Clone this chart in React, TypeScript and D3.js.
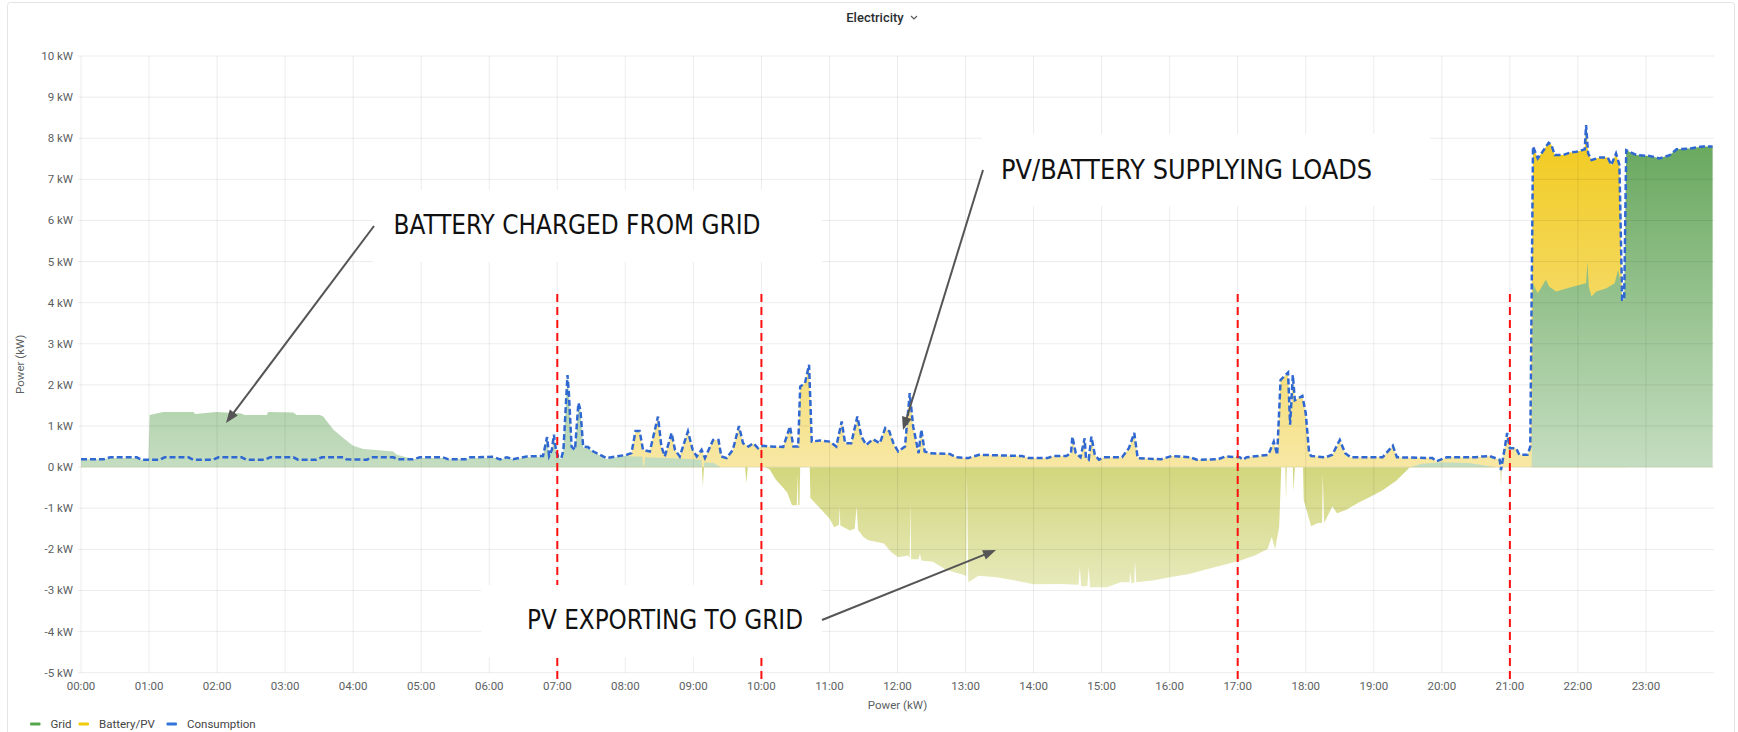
import React from "react";
import * as d3 from "d3";

// consumption (kW) and the upper edge of the Battery/PV band share these times (hours)
const loadHours = [
  0.0, 0.33, 0.43, 0.82, 0.89, 1.16, 1.23, 1.58, 1.65, 1.94,
  2.02, 2.36, 2.43, 2.7, 2.78, 3.12, 3.19, 3.46, 3.54, 3.86,
  3.9, 4.2, 4.27, 4.59, 4.66, 4.88, 4.98, 5.32, 5.4, 5.67,
  5.72, 6.06, 6.16, 6.26, 6.35, 6.55, 6.79, 6.85, 6.88, 6.92,
  6.95, 6.98, 7.01, 7.06, 7.09, 7.15, 7.17, 7.21, 7.26, 7.31,
  7.34, 7.38, 7.45, 7.53, 7.63, 7.72, 7.87, 8.02, 8.09, 8.15,
  8.21, 8.26, 8.36, 8.48, 8.53, 8.58, 8.68, 8.73, 8.8, 8.92,
  8.99, 9.05, 9.12, 9.17, 9.29, 9.37, 9.41, 9.49, 9.58, 9.67,
  9.73, 9.81, 9.88, 9.95, 10.02, 10.12, 10.32, 10.42, 10.47, 10.54,
  10.57, 10.64, 10.7, 10.74, 10.86, 11.01, 11.1, 11.18, 11.23, 11.32,
  11.41, 11.47, 11.54, 11.64, 11.74, 11.82, 11.88, 11.94, 12.01, 12.11,
  12.18, 12.23, 12.31, 12.35, 12.4, 12.48, 12.77, 12.86, 13.04, 13.2,
  13.83, 13.93, 14.2, 14.3, 14.48, 14.55, 14.57, 14.62, 14.69, 14.75,
  14.77, 14.81, 14.85, 14.9, 14.96, 15.03, 15.3, 15.4, 15.48, 15.53,
  15.87, 16.03, 16.3, 16.4, 16.71, 16.82, 17.03, 17.08, 17.13, 17.45,
  17.53, 17.58, 17.63, 17.74, 17.77, 17.81, 17.84, 17.95, 18.0, 18.05,
  18.08, 18.29, 18.39, 18.5, 18.58, 18.66, 19.13, 19.28, 19.34, 19.86,
  19.92, 20.07, 20.49, 20.6, 20.7, 20.85, 20.87, 20.92, 20.96, 21.0,
  21.09, 21.14, 21.26, 21.3, 21.34, 21.41, 21.48, 21.57, 21.61, 21.66,
  21.78, 21.88, 21.98, 22.1, 22.12, 22.15, 22.2, 22.32, 22.44, 22.49,
  22.56, 22.61, 22.65, 22.68, 22.71, 22.86, 23.05, 23.2, 23.35, 23.45,
  23.64, 23.84, 23.98,
];

const consumption = [
  0.19, 0.19, 0.24, 0.24, 0.18, 0.18, 0.24, 0.24, 0.18, 0.18,
  0.24, 0.24, 0.18, 0.18, 0.24, 0.24, 0.18, 0.18, 0.24, 0.24,
  0.19, 0.18, 0.24, 0.24, 0.19, 0.19, 0.24, 0.24, 0.19, 0.19,
  0.24, 0.25, 0.19, 0.24, 0.19, 0.26, 0.27, 0.73, 0.27, 0.42,
  0.79, 0.42, 0.26, 0.22, 0.42, 2.24, 1.8, 0.5, 0.42, 1.56,
  1.39, 0.5, 0.49, 0.38, 0.3, 0.22, 0.26, 0.3, 0.34, 0.88,
  0.88, 0.42, 0.38, 1.23, 0.5, 0.26, 0.83, 0.42, 0.26, 0.87,
  0.42, 0.26, 0.42, 0.22, 0.66, 0.66, 0.26, 0.22, 0.42, 1.0,
  0.58, 0.5, 0.58, 0.46, 0.52, 0.5, 0.49, 0.99, 0.5, 0.5,
  1.96, 2.04, 2.49, 0.62, 0.65, 0.62, 0.5, 1.11, 0.58, 0.58,
  1.23, 0.74, 0.54, 0.68, 0.58, 0.95, 0.87, 0.58, 0.38, 0.5,
  1.8, 0.99, 0.34, 0.91, 0.38, 0.34, 0.32, 0.24, 0.22, 0.3,
  0.27, 0.22, 0.22, 0.27, 0.27, 0.34, 0.74, 0.34, 0.24, 0.7,
  0.22, 0.18, 0.74, 0.3, 0.18, 0.24, 0.24, 0.46, 0.83, 0.22,
  0.19, 0.27, 0.24, 0.18, 0.19, 0.26, 0.24, 0.18, 0.24, 0.3,
  0.62, 0.3, 2.12, 2.3, 1.03, 2.24, 1.63, 1.73, 1.31, 0.34,
  0.27, 0.24, 0.3, 0.66, 0.34, 0.24, 0.24, 0.52, 0.24, 0.22,
  0.14, 0.24, 0.24, 0.26, 0.27, 0.18, -0.07, 0.42, 0.83, 0.46,
  0.46, 0.3, 0.3, 0.5, 7.8, 7.51, 7.67, 7.89, 7.84, 7.59,
  7.59, 7.65, 7.67, 7.73, 8.32, 7.63, 7.47, 7.53, 7.53, 7.35,
  7.63, 7.35, 4.07, 4.07, 7.71, 7.59, 7.57, 7.51, 7.59, 7.73,
  7.75, 7.8, 7.8,
];

// top edge of the yellow Battery/PV band (kW), 0 where the band is not shown
const batteryPv = [
  0, 0, 0, 0, 0, 0, 0, 0, 0, 0,
  0, 0, 0, 0, 0, 0, 0, 0, 0, 0,
  0, 0, 0, 0, 0, 0, 0, 0, 0, 0,
  0, 0, 0, 0, 0, 0, 0, 0, 0, 0,
  0, 0, 0, 0, 0, 0, 0, 0, 0, 0,
  0, 0, 0, 0, 0, 0, 0, 0.3, 0.34, 0.88,
  0.88, 0.42, 0.38, 1.23, 0.5, 0.26, 0.83, 0.42, 0.26, 0.87,
  0.42, 0.26, 0.42, 0.22, 0.66, 0.66, 0.26, 0.22, 0.42, 1.0,
  0.58, 0.5, 0.58, 0.46, 0.52, 0.5, 0.49, 0.99, 0.5, 0.5,
  1.96, 2.04, 2.49, 0.62, 0.65, 0.62, 0.5, 1.11, 0.58, 0.58,
  1.23, 0.74, 0.54, 0.68, 0.58, 0.95, 0.87, 0.58, 0.38, 0.5,
  1.8, 0.99, 0.34, 0.91, 0.38, 0.34, 0.32, 0.24, 0.22, 0.3,
  0.27, 0.22, 0.22, 0.27, 0.27, 0.34, 0.74, 0.34, 0.24, 0.7,
  0.22, 0.18, 0.74, 0.3, 0.18, 0.24, 0.24, 0.46, 0.83, 0.22,
  0.19, 0.27, 0.24, 0.18, 0.19, 0.26, 0.24, 0.18, 0.24, 0.3,
  0.62, 0.3, 2.12, 2.3, 1.03, 2.24, 1.63, 1.73, 1.31, 0.34,
  0.27, 0.24, 0.3, 0.66, 0.34, 0.24, 0.24, 0.52, 0.24, 0.22,
  0.14, 0.24, 0.24, 0.26, 0.27, 0.18, 0, 0.42, 0.83, 0.46,
  0.46, 0.3, 0.3, 0.5, 7.8, 7.51, 7.67, 7.89, 7.84, 7.59,
  7.59, 7.65, 7.67, 7.73, 8.32, 7.63, 7.47, 7.53, 7.53, 7.35,
  7.63, 7.35, 4.07, 4.07, 0, 0, 0, 0, 0, 0,
  0, 0, 0,
];

// grid power (kW), negative = export
const gridHours = [
  0.0, 0.33, 0.43, 0.82, 0.89, 0.99, 1.01, 1.21, 1.65, 1.68,
  1.99, 2.34, 2.41, 2.73, 2.75, 3.12, 3.17, 3.51, 3.56, 3.71,
  3.86, 4.0, 4.15, 4.29, 4.59, 4.64, 4.74, 4.88, 4.98, 5.32,
  5.4, 5.67, 5.72, 6.06, 6.16, 6.26, 6.35, 6.55, 6.79, 6.85,
  6.88, 6.92, 6.95, 6.98, 7.01, 7.06, 7.09, 7.15, 7.17, 7.21,
  7.26, 7.31, 7.34, 7.38, 7.45, 7.53, 7.63, 7.72, 7.87, 8.02,
  8.09, 8.25, 8.27, 8.29, 8.6, 8.95, 9.12, 9.14, 9.16, 9.3,
  9.4, 9.76, 9.78, 9.8, 10.05, 10.12, 10.21, 10.32, 10.38, 10.42,
  10.45, 10.52, 10.53, 10.54, 10.56, 10.57, 10.71, 10.72, 10.86, 11.0,
  11.07, 11.14, 11.15, 11.16, 11.3, 11.37, 11.4, 11.42, 11.5, 11.57,
  11.7, 11.8, 11.91, 12.01, 12.15, 12.18, 12.19, 12.2, 12.31, 12.33,
  12.35, 12.52, 12.72, 12.93, 13.01, 13.02, 13.04, 13.19, 13.45, 13.73,
  14.0, 14.4, 14.66, 14.68, 14.7, 14.79, 14.81, 14.83, 15.08, 15.28,
  15.41, 15.42, 15.44, 15.48, 15.49, 15.51, 15.75, 16.02, 16.29, 16.56,
  16.83, 17.04, 17.25, 17.44, 17.5, 17.55, 17.61, 17.64, 17.7, 17.71,
  17.72, 17.81, 17.82, 17.84, 17.96, 17.97, 18.08, 18.18, 18.24, 18.25,
  18.27, 18.39, 18.46, 18.59, 18.78, 18.95, 19.13, 19.33, 19.53, 19.7,
  20.0, 20.4, 20.8, 20.86, 20.87, 20.88, 21.32, 21.34, 21.36, 21.41,
  21.53, 21.58, 21.68, 21.92, 22.12, 22.14, 22.16, 22.2, 22.27, 22.42,
  22.54, 22.59, 22.62, 22.65, 22.68, 22.71, 22.86, 23.05, 23.2, 23.35,
  23.45, 23.64, 23.84, 23.98,
];

const grid = [
  0.19, 0.19, 0.22, 0.22, 0.18, 0.18, 1.27, 1.34, 1.34, 1.29,
  1.34, 1.31, 1.27, 1.27, 1.34, 1.33, 1.27, 1.27, 1.23, 0.91,
  0.7, 0.52, 0.44, 0.42, 0.38, 0.3, 0.26, 0.19, 0.22, 0.22,
  0.19, 0.19, 0.22, 0.23, 0.19, 0.22, 0.19, 0.24, 0.25, 0.71,
  0.25, 0.4, 0.77, 0.4, 0.24, 0.2, 0.4, 2.22, 1.78, 0.48,
  0.4, 1.54, 1.37, 0.48, 0.47, 0.36, 0.28, 0.2, 0.24, 0.28,
  0.26, 0.26, -0.06, 0.24, 0.22, 0.2, 0.18, -0.47, 0.12, 0.1,
  0.0, 0.0, -0.39, 0.0, 0.0, -0.05, -0.3, -0.5, -0.62, -0.8,
  -0.93, -0.93, -0.16, -0.93, -0.93, 0.0, 0.0, -0.75, -1.0, -1.25,
  -1.46, -1.4, -0.97, -1.42, -1.54, -1.5, -0.97, -1.52, -1.7, -1.78,
  -1.82, -1.86, -2.07, -2.19, -2.15, -2.2, -0.85, -2.24, -2.24, -2.1,
  -2.27, -2.3, -2.5, -2.6, -2.65, -0.16, -2.8, -2.64, -2.68, -2.76,
  -2.85, -2.84, -2.86, -2.43, -2.9, -2.9, -2.43, -2.92, -2.92, -2.8,
  -2.8, -2.55, -2.82, -2.82, -2.27, -2.8, -2.76, -2.67, -2.6, -2.48,
  -2.36, -2.27, -2.15, -1.99, -1.7, -1.99, -1.45, 0.0, 0.0, -0.8,
  0.0, 0.0, -0.6, 0.0, 0.0, -0.8, -1.44, -1.36, -1.36, -0.16,
  -1.36, -0.96, -1.12, -1.04, -0.86, -0.72, -0.56, -0.33, 0.0, 0.08,
  0.12, 0.1, 0.0, 0.0, -0.47, 0.0, 0.0, 4.5, 4.39, 4.23,
  4.56, 4.39, 4.27, 4.39, 4.47, 4.99, 4.39, 4.15, 4.27, 4.35,
  4.47, 4.8, 4.56, 4.07, 4.07, 7.71, 7.59, 7.57, 7.51, 7.59,
  7.73, 7.75, 7.8, 7.8,
];

const yTicks = [-5, -4, -3, -2, -1, 0, 1, 2, 3, 4, 5, 6, 7, 8, 9, 10];
const xTickHours = d3.range(0, 24);
const markerHours = [7, 10, 17, 21];
const legendNames = ["Grid", "Battery/PV", "Consumption"];
const legendColors = ["#56a64b", "#f2cc0c", "#3274d9"];

const notes = [
  { text: "BATTERY CHARGED FROM GRID", box: [373, 190, 822, 262], tx: 393.5, ty: 234, tw: 367, from: [374, 226], to: [226, 423] },
  { text: "PV/BATTERY SUPPLYING LOADS", box: [982, 134, 1430, 206], tx: 1001, ty: 178.5, tw: 371, from: [983, 170], to: [903, 430] },
  { text: "PV EXPORTING TO GRID", box: [481, 585, 822, 657], tx: 527, ty: 629, tw: 276, from: [822, 620], to: [996, 550] },
];

const tickFont = "Roboto, Inter, 'Liberation Sans', sans-serif";
const noteFont = "'Liberation Sans Narrow', 'DejaVu Sans Condensed', 'Liberation Sans', sans-serif";

function arrowHead(from: number[], to: number[]) {
  const dx = to[0] - from[0], dy = to[1] - from[1];
  const len = Math.hypot(dx, dy);
  const ux = dx / len, uy = dy / len;
  const L = 13, w = 5;
  const bx = to[0] - ux * L, by = to[1] - uy * L;
  return {
    pts: `${to[0]},${to[1]} ${bx - uy * w},${by + ux * w} ${bx + uy * w},${by - ux * w}`,
    end: [to[0] - ux * (L - 2), to[1] - uy * (L - 2)],
  };
}

export default function App() {
  const left = 81, right = 1714, top = 56, bottom = 672.7;
  const x = d3.scaleLinear().domain([0, 24]).range([left, right]);
  const y = d3.scaleLinear().domain([-5, 10]).range([bottom, top]);
  const y0 = y(0);

  const loadPts = loadHours.map((h, i) => [h, consumption[i], batteryPv[i]]);
  const gridPts = gridHours.map((h, i) => [h, grid[i]]);

  const pvArea = d3.area<number[]>().x((d) => x(d[0])).y0(y0).y1((d) => y(d[2]))(loadPts) || "";
  const gridArea = d3.area<number[]>().x((d) => x(d[0])).y0(y0).y1((d) => y(d[1]))(gridPts) || "";
  const loadLine = d3.line<number[]>().x((d) => x(d[0])).y((d) => y(d[1]))(loadPts) || "";

  return (
    <svg width={1738} height={732} style={{ position: "absolute", left: 0, top: 0, background: "#fff" }}>
      <defs>
        <linearGradient id="gGreen" gradientUnits="userSpaceOnUse" x1={0} x2={0} y1={top} y2={bottom}>
          <stop offset="0" stopColor="rgb(80,154,68)" />
          <stop offset="1" stopColor="rgb(255,255,255)" />
        </linearGradient>
        <linearGradient id="gYellow" gradientUnits="userSpaceOnUse" x1={0} x2={0} y1={top} y2={bottom}>
          <stop offset="0" stopColor="rgb(240,196,0)" />
          <stop offset="1" stopColor="rgb(251,249,245)" />
        </linearGradient>
        <linearGradient id="gOlive" gradientUnits="userSpaceOnUse" x1={0} x2={0} y1={y0} y2={bottom}>
          <stop offset="0" stopColor="rgb(210,214,124)" />
          <stop offset="1" stopColor="rgb(246,248,232)" />
        </linearGradient>
        <clipPath id="cPos">
          <rect x={left} y={top - 20} width={right - left} height={y0 - top + 20} />
        </clipPath>
        <clipPath id="cNeg">
          <rect x={left} y={y0} width={right - left} height={bottom - y0} />
        </clipPath>
      </defs>

      <rect x={7.5} y={2.5} width={1727} height={740} rx={3} fill="none" stroke="#e4e4e4" />

      <text x={875} y={22} textAnchor="middle" fontFamily={tickFont} fontSize={13} fontWeight={500} fill="#2b2f33">
        Electricity
      </text>
      <polyline points="911,16 914,19 917,16" fill="none" stroke="#555" strokeWidth={1.1} />

      {/* series fills */}
      <path d={pvArea} fill="url(#gYellow)" />
      <path d={gridArea} fill="url(#gGreen)" clipPath="url(#cPos)" />
      <path d={gridArea} fill="url(#gOlive)" clipPath="url(#cNeg)" />

      {/* grid lines */}
      <g stroke="rgba(0,0,0,0.075)" strokeWidth={1}>
        {yTicks.map((t) => (
          <line key={"h" + t} x1={left - 3} x2={right} y1={y(t)} y2={y(t)} />
        ))}
        {xTickHours.map((h) => (
          <line key={"v" + h} x1={x(h)} x2={x(h)} y1={top} y2={bottom} />
        ))}
      </g>

      <path d={loadLine} fill="none" stroke="#3068d2" strokeWidth={2.5} strokeDasharray="6 3" />

      {markerHours.map((h) => (
        <line key={"m" + h} x1={x(h)} x2={x(h)} y1={294} y2={680} stroke="#ff1010" strokeWidth={2} strokeDasharray="8 5" />
      ))}

      {/* annotations */}
      {notes.map((n) => {
        const a = arrowHead(n.from, n.to);
        return (
          <g key={n.text}>
            <rect x={n.box[0]} y={n.box[1]} width={n.box[2] - n.box[0]} height={n.box[3] - n.box[1]} fill="#fff" />
            <text x={n.tx} y={n.ty} fontFamily={noteFont} fontSize={26} fill="#111" textLength={n.tw} lengthAdjust="spacingAndGlyphs">
              {n.text}
            </text>
            <line x1={n.from[0]} y1={n.from[1]} x2={a.end[0]} y2={a.end[1]} stroke="#555" strokeWidth={2} />
            <polygon points={a.pts} fill="#555" />
          </g>
        );
      })}

      {/* axes */}
      <g fontFamily={tickFont} fontSize={11.5} fill="#5b5f62">
        {yTicks.map((t) => (
          <text key={"yl" + t} x={73} y={y(t) + 4} textAnchor="end">
            {t} kW
          </text>
        ))}
        {xTickHours.map((h) => (
          <text key={"xl" + h} x={x(h)} y={690} textAnchor="middle">
            {String(h).padStart(2, "0")}:00
          </text>
        ))}
        <text x={(left + right) / 2} y={709} textAnchor="middle">
          Power (kW)
        </text>
        <text transform={`translate(24, ${(top + bottom) / 2}) rotate(-90)`} textAnchor="middle">
          Power (kW)
        </text>
      </g>

      {/* legend */}
      <g fontFamily={tickFont} fontSize={11.5} fill="#444">
        {legendNames.map((name, i) => {
          const lx = [30, 78.5, 166.5][i];
          return (
            <g key={name}>
              <rect x={lx} y={722.5} width={10.5} height={3} rx={1} fill={legendColors[i]} />
              <text x={lx + 20.5} y={728}>
                {name}
              </text>
            </g>
          );
        })}
      </g>
    </svg>
  );
}
